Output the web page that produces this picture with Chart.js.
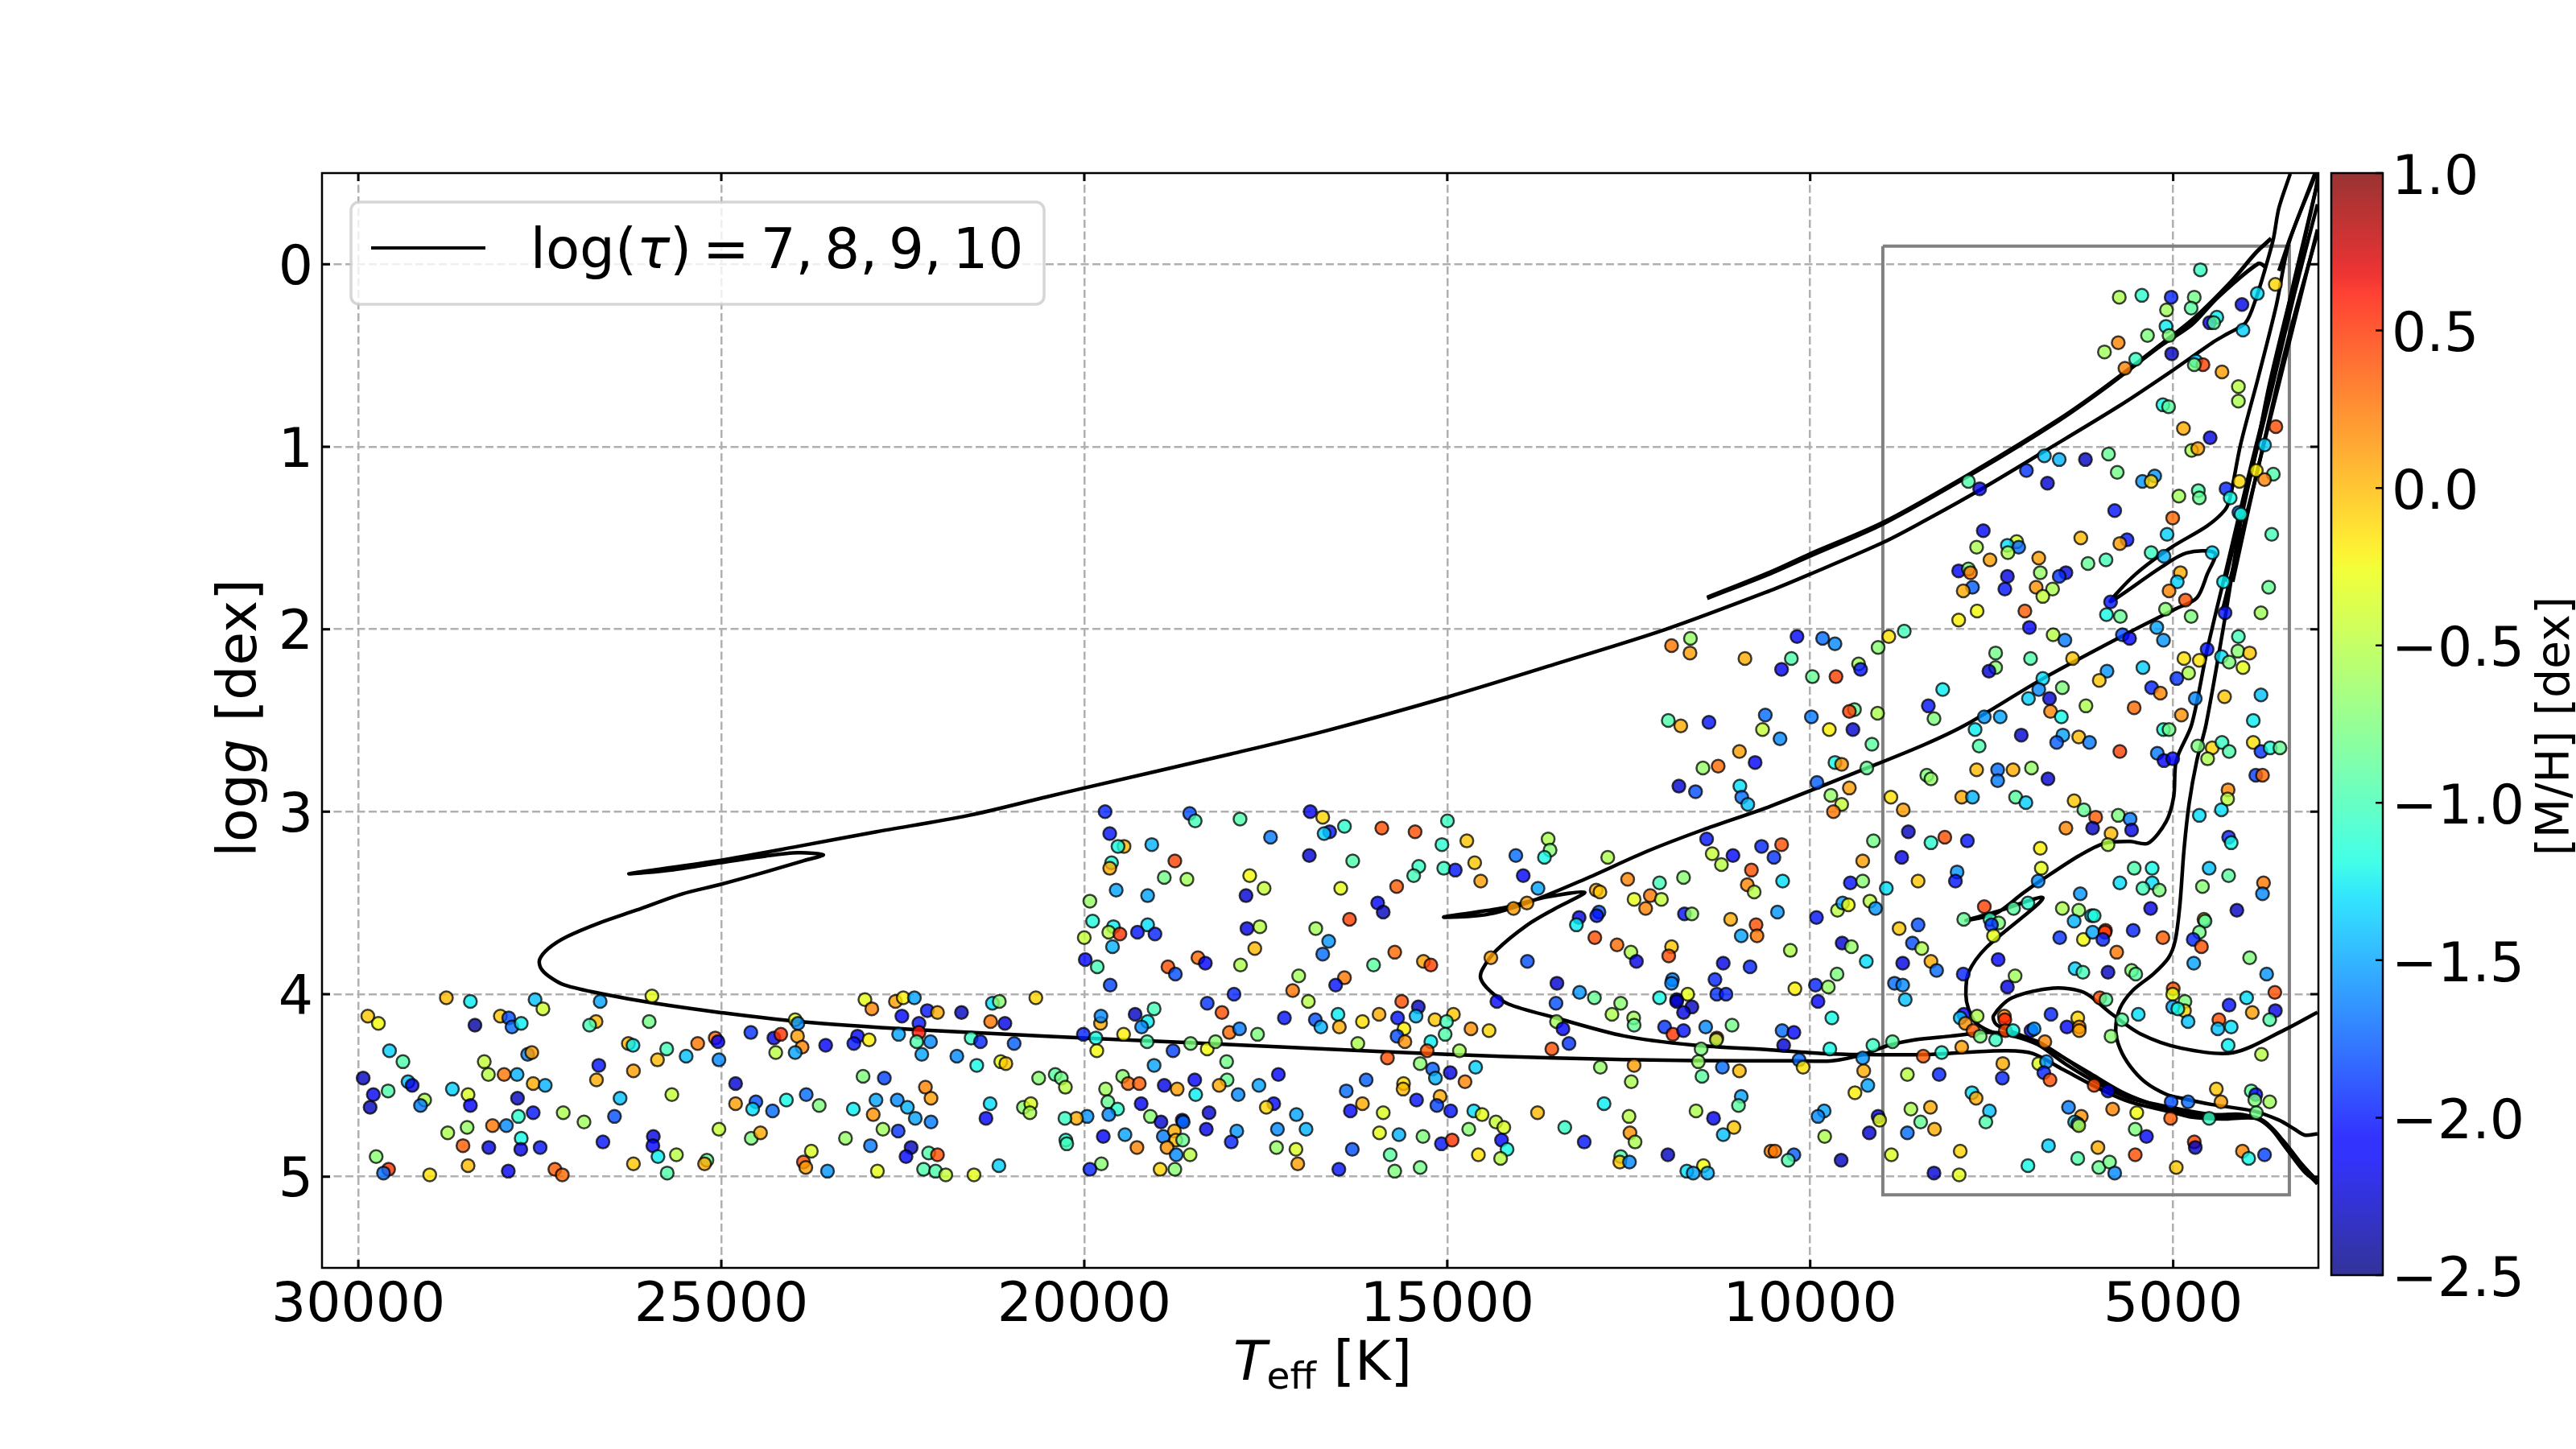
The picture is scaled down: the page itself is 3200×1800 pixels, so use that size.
<!DOCTYPE html>
<html>
<head>
<meta charset="utf-8">
<title>Kiel diagram</title>
<script src="https://cdn.jsdelivr.net/npm/chart.js@4"></script>
<style>
    html, body { margin: 0; padding: 0; background: #fff; }
    canvas { position: absolute; left: 0; top: 0; }
</style>
</head>
<body>
<canvas id="mainChart" width="3200" height="1800"></canvas>
<canvas id="barChart" width="3200" height="1800"></canvas>
<script>
// stars, hot side first
const starTeff = [
    28787,28456,27565,27457,26668,25955,29869,29723,28043,27928,
    27883,27756,28393,26725,26814,25993,23982,23944,23021,22926,
    22601,22493,22340,21265,21170,20667,22162,22022,21691,22512,
    21290,21093,22277,22277,24593,24275,24180,23950,22557,21558,
    21430,22118,22308,20966,23123,23174,22964,23562,23887,24250,
    23982,25083,25045,25325,25752,26280,26216,29570,29385,27667,
    27610,28265,26687,25879,25484,25032,22238,21755,21481,21150,
    21080,29933,29315,29258,29589,29793,29837,29086,29143,28704,
    28488,28456,28208,27992,27813,27591,27425,27807,26719,26210,
    26394,25681,24803,24803,24523,24568,24294,24103,23830,23651,
    23047,22754,22188,22111,22869,22576,22436,23181,22907,22328,
    22111,21354,21297,20838,20736,20749,20628,27794,27591,27177,
    26891,26471,28501,28768,28151,27960,27756,27762,28558,28202,
    27495,26630,25936,25942,25872,25618,25032,24587,24460,23289,
    22773,22563,22945,23760,22385,22455,22143,22022,29754,29583,
    29653,29016,28488,27934,27292,27190,26210,25745,25198,25230,
    23868,23836,23537,22849,22213,22048,21908,21519,21176,
    // middle block
    11650,11910,11656,10899,11955,11783,11395,10619,10657,10975,
    10759,11268,11478,11809,11580,10969,10943,10860,19713,18548,
    18472,17854,16887,16715,16416,16620,16696,15901,15443,14997,
    19649,19452,19535,19070,17434,15073,14730,13610,13584,13661,
    14055,12789,18752,19624,19649,16900,16302,15392,15462,15048,
    14889,14622,14539,13953,13750,11427,11350,11064,11223,10670,
    10810,11745,12076,12515,18898,18586,17721,17523,16467,15697,
    19560,19127,17772,19923,15958,15882,12948,12897,14087,13902,
    12426,12203,12050,12267,10867,10772,19885,19598,19127,19662,
    19509,19267,19026,20000,19611,16346,17759,17581,16811,16633,
    17651,16715,19986,19821,18847,18745,18434,18332,17848,16015,
    15723,15328,15226,13183,13221,12910,12941,12967,12661,12470,
    12394,11910,11949,11732,11631,11096,10746,10950,10733,11198,
    10829,14399,13896,17046,16416,16537,17129,19643,17937,13489,
    11898,11910,11312,14316,13177,12973,12611,13502,12076,11688,
    11840,11840,11630,11745,11287,11160,12731,12432,12426,13495,
    13406,13323,13559,12006,11891,11745,11440,11077,11287,11293,
    11503,11541,12426,12891,12465,11491,11210,10975,10950,10988,
    12840,12496,11573,11332,11051,11198,13381,13756,13113,12483,
    12413,11961,12610,12623,12490,11471,11700,11612,11414,10542,
    19776,19770,19299,19038,19127,19210,20012,19840,19458,19134,
    19827,18777,18535,18306,18192,18103,18306,18001,17861,17613,
    17243,16913,16817,16741,16505,16486,16168,15939,15627,15398,
    15430,15684,15169,14915,15010,15595,15691,15583,15029,15226,
    15277,14673,14424,16232,14832,15824,18039,19038,15373,15201,
    15163,14959,14609,14755,17326,16117,15602,15608,20400,20317,
    20260,19471,19395,19242,19706,18898,18720,18478,18465,18033,
    18141,17594,17880,16391,16168,16334,15099,15423,15143,14953,
    19675,19216,19541,19662,19961,20107,20266,19089,18943,18650,
    18637,18281,17390,17492,17078,16945,17339,17899,18319,15882,
    15933,15665,15334,14634,14520,14329,14221,14704,20254,20241,
    19738,19439,18911,18758,18739,18644,19274,18860,18733,18542,
    17975,17352,17084,17059,16308,15786,15080,14933,14252,14176,
    14571,14265,19764,19923,18955,18752,16493,15723,15373,
    // cool block, upper
    4625,5743,5432,5028,4710,5092,4753,4053,3593,3841,
    4399,4498,4442,5099,4039,5354,5057,5757,5947,5021,
    5516,5665,4689,4590,4710,4328,4102,4102,5142,5064,
    4859,4491,3586,3742,4746,4661,6775,6570,6209,5891,
    7022,5771,7821,7666,6732,5255,5424,5304,3855,3621,
    3742,4088,4272,4654,4640,4922,4215,5806,4095,4067,
    5007,5085,3643,7616,6273,5636,5735,7708,7156,7284,
    7128,7277,7524,6852,5304,5127,4463,5926,6174,7955,
    7821,7793,6831,6478,6570,7284,4901,4944,7765,7892,
    7319,6888,6662,6796,5057,4307,3685,4831,5863,5106,
    5919,5728,4753,3791,4286,7701,7955,7043,6980,8705,
    8917,9065,10182,9829,9659,5226,6654,6492,5700,5601,
    5134,4102,4109,3947,4533,4335,4229,4039,4852,4640,
    10260,9334,9306,10395,9970,9645,7446,6965,6386,7446,
    7538,5912,5417,6018,4788,4951,6796,6852,6527,8175,
    5297,5177,4293,3791,4696,6994,6704,8373,6202,5538,
    9072,9391,9461,9984,8295,7602,7383,6690,6541,4887,
    3897,
    // cool block, lower
    9737,9412,10416,9150,9659,9567,9221,9907,9461,9716,
    9567,9680,8719,8889,7729,7093,7673,6520,6605,6301,
    6153,5735,5134,5057,5219,5127,5007,4661,4463,4328,
    4229,4526,3897,3791,3664,3530,3862,3770,8394,8337,
    7708,7418,7418,7206,6952,6725,7913,7765,7171,7029,
    6365,6230,6068,5757,5594,6478,6110,5573,5856,5898,
    6831,8648,9129,8337,8146,7835,4640,4336,4244,4251,
    4236,4201,10394,10500,9277,8740,7977,8000,8514,10380,
    9447,9277,8952,6817,6860,5537,5290,5290,5735,5417,
    5191,4505,4237,4597,3756,3770,6280,10451,9914,9624,
    9553,9475,9178,9101,5311,4123,7199,7001,7602,7885,
    7524,7404,7503,7475,8775,8514,6527,6301,6124,6089,
    6365,4576,4562,4639,6563,6237,6110,5933,5940,5969,
    5551,5142,4724,4611,5778,10274,9560,9433,9228,8592,
    8464,8337,8259,8726,7411,4717,3947,3713,9631,9928,
    9751,10211,9893,8839,8726,8691,7892,7178,7284,6351,
    6244,5898,5573,5516,5000,5007,6011,5926,4838,4845,
    5007,4936,4795,4230,3989,3911,3600,3593,3671,6683,
    6315,5481,5707,4371,4385,4201,4243,3784,7885,7934,
    7701,7863,7757,7658,7326,7319,7312,7206,7446,6959,
    6916,6768,6464,6294,6294,5856,9702,10387,10225,10366,
    9730,9136,8867,7913,8189,8443,10154,10098,9277,9263,
    9207,9384,7347,7354,6852,6746,6782,6697,8662,8224,
    7772,7715,6089,5898,5028,4795,4406,4342,3925,3862,
    3876,3671,3855,4505,5036,5834,5502,6442,6266,6358,
    6315,6301,5523,5368,7531,7581,8344,8613,8479,8288,
    8662,9065,9044,9808,9893,9801,9186,10486,10225,10303,
    9574,8882,7934,8295,7948,6718,7001,6315,6037,6025,
    5877,5806,5523,4958,4710,4696,4046,3961,3742
];
const starLogg = [
    4.02,4.04,4.03,4.08,4.04,4.01,4.12,4.16,4.12,4.13,
    4.18,4.16,4.17,4.15,4.17,4.15,4.14,4.16,4.03,4.08,
    4.04,4.02,4.02,4.05,4.04,4.02,4.09,4.10,4.10,4.12,
    4.15,4.16,4.16,4.21,4.21,4.24,4.22,4.23,4.22,4.24,
    4.26,4.26,4.26,4.27,4.23,4.27,4.25,4.28,4.29,4.32,
    4.32,4.24,4.26,4.27,4.30,4.27,4.28,4.31,4.37,4.33,
    4.32,4.37,4.39,4.36,4.34,4.36,4.33,4.34,4.39,4.37,
    4.38,4.46,4.48,4.50,4.53,4.55,4.62,4.58,4.61,4.52,
    4.55,4.61,4.44,4.44,4.44,4.49,4.50,4.57,4.47,4.42,
    4.57,4.55,4.49,4.60,4.59,4.63,4.64,4.58,4.55,4.61,
    4.45,4.46,4.51,4.57,4.58,4.58,4.62,4.63,4.66,4.68,
    4.70,4.68,4.60,4.62,4.60,4.65,4.46,4.67,4.65,4.65,
    4.70,4.67,4.73,4.76,4.72,4.72,4.79,4.85,4.83,4.84,
    4.84,4.81,4.78,4.83,4.89,4.88,4.74,4.79,4.76,4.79,
    4.74,4.75,4.83,4.86,4.84,4.89,4.87,4.88,4.89,4.96,
    4.98,4.99,4.94,4.97,4.96,4.99,4.93,4.98,4.91,4.93,
    4.92,4.95,4.97,4.97,4.96,4.97,4.99,4.99,4.94,
    // middle block
    2.05,2.09,2.13,2.16,2.50,2.53,2.51,2.47,2.55,2.67,
    2.73,2.75,2.76,2.86,2.89,2.86,2.92,2.96,3.00,3.01,
    3.05,3.04,3.00,3.03,3.08,3.11,3.12,3.09,3.11,3.05,
    3.12,3.19,3.19,3.18,3.14,3.18,3.16,3.15,3.21,3.25,
    3.24,3.25,3.27,3.28,3.31,3.24,3.27,3.30,3.35,3.31,
    3.32,3.28,3.38,3.35,3.42,3.15,3.23,3.24,3.29,3.19,
    3.32,3.36,3.39,3.37,3.36,3.37,3.35,3.42,3.42,3.41,
    3.43,3.46,3.46,3.49,3.50,3.55,3.43,3.44,3.53,3.50,
    3.48,3.46,3.48,3.53,3.40,3.44,3.60,3.63,3.62,3.66,
    3.67,3.66,3.67,3.69,3.74,3.59,3.64,3.63,3.64,3.71,
    3.75,3.78,3.81,3.85,3.85,3.89,3.80,3.83,3.84,3.84,
    3.77,3.82,3.84,3.58,3.62,3.55,3.57,3.69,3.73,3.77,
    3.82,3.74,3.79,3.56,3.56,3.59,3.62,3.68,3.68,3.83,
    3.85,3.80,3.82,3.90,3.91,3.95,3.98,3.95,4.00,3.94,
    3.92,3.94,3.92,4.04,3.99,4.02,4.05,4.05,4.02,4.00,
    4.03,4.04,4.07,4.10,4.00,4.00,4.11,4.13,4.17,4.15,
    4.19,4.27,4.30,4.18,4.22,4.20,4.18,4.17,4.24,4.25,
    4.30,4.37,4.39,4.40,4.48,4.45,4.40,4.42,4.56,4.61,
    4.60,4.67,4.64,4.68,4.73,4.77,4.73,4.65,4.81,4.76,
    4.81,4.88,4.89,4.92,4.92,4.94,4.97,4.98,4.98,4.86,
    4.16,4.12,4.11,4.08,4.15,4.18,4.22,4.24,4.22,4.26,
    4.31,4.31,4.27,4.30,4.26,4.10,4.05,4.21,4.19,4.22,
    4.13,4.04,4.14,4.18,4.11,4.18,4.15,4.11,4.04,4.07,
    4.12,4.13,4.14,4.11,4.15,4.19,4.23,4.26,4.22,4.26,
    4.31,4.19,4.20,4.27,4.31,4.35,4.37,4.39,4.38,4.41,
    4.46,4.43,4.40,4.48,4.44,4.47,4.49,4.52,4.44,4.46,
    4.51,4.45,4.49,4.49,4.52,4.50,4.52,4.47,4.55,4.47,
    4.50,4.50,4.55,4.53,4.60,4.64,4.56,4.58,4.61,4.64,
    4.59,4.60,4.63,4.66,4.67,4.68,4.68,4.67,4.70,4.69,
    4.70,4.65,4.60,4.62,4.66,4.74,4.74,4.75,4.74,4.65,
    4.76,4.77,4.78,4.64,4.66,4.70,4.73,4.74,4.80,4.82,
    4.78,4.77,4.78,4.75,4.80,4.80,4.84,4.84,4.88,4.88,
    4.81,4.84,4.85,4.93,4.85,4.88,4.82,4.80,4.80,4.85,
    4.88,4.90,4.93,4.96,4.96,4.96,4.96,4.97,4.95,
    // cool block, upper
    0.03,0.18,0.17,0.18,0.18,0.25,0.24,0.22,0.11,0.16,
    0.29,0.32,0.32,0.34,0.36,0.39,0.39,0.43,0.48,0.49,
    0.52,0.57,0.53,0.55,0.55,0.59,0.67,0.75,0.77,0.78,
    0.90,0.95,0.89,0.99,1.02,1.01,1.05,1.07,1.07,1.04,
    1.13,1.14,1.19,1.23,1.20,1.16,1.19,1.19,1.13,1.15,
    1.18,1.19,1.23,1.24,1.28,1.27,1.28,1.35,1.36,1.37,
    1.39,1.48,1.48,1.46,1.50,1.51,1.53,1.55,1.52,1.54,
    1.55,1.58,1.62,1.61,1.58,1.60,1.58,1.62,1.64,1.68,
    1.67,1.69,1.69,1.69,1.71,1.71,1.69,1.74,1.77,1.79,
    1.78,1.77,1.78,1.82,1.79,1.74,1.77,1.84,1.85,1.89,
    1.92,1.93,1.93,1.91,1.91,1.90,1.95,1.90,1.99,2.01,
    2.04,2.10,2.04,2.05,2.08,1.99,2.03,2.06,2.03,2.05,
    2.06,2.04,2.12,2.13,2.11,2.15,2.18,2.21,2.16,2.17,
    2.16,2.19,2.22,2.22,2.26,2.26,2.13,2.16,2.16,2.21,
    2.23,2.23,2.21,2.28,2.24,2.27,2.27,2.33,2.32,2.33,
    2.32,2.35,2.37,2.36,2.38,2.38,2.38,2.42,2.42,2.43,
    2.46,2.44,2.45,2.48,2.49,2.48,2.48,2.45,2.48,2.47,
    2.50,
    // cool block, lower
    2.55,2.55,2.60,2.63,2.73,2.74,2.76,2.84,2.87,2.91,
    2.96,3.00,2.99,2.92,2.55,2.58,2.64,2.58,2.62,2.59,
    2.62,2.67,2.55,2.55,2.68,2.72,2.71,2.64,2.65,2.62,
    2.67,2.71,2.62,2.67,2.65,2.65,2.80,2.80,2.80,2.82,
    2.77,2.77,2.83,2.77,2.76,2.82,2.92,2.92,2.92,2.95,
    2.94,2.99,3.03,3.02,3.04,3.09,3.09,3.10,3.12,3.18,
    3.20,3.11,3.16,3.17,3.14,3.16,3.02,2.99,2.88,2.93,
    3.14,3.17,3.18,3.25,3.27,3.25,3.33,3.38,3.38,3.38,
    3.39,3.38,3.42,3.31,3.38,3.31,3.31,3.39,3.39,3.42,
    3.43,3.31,3.35,3.41,3.39,3.45,3.45,3.55,3.58,3.54,
    3.50,3.51,3.49,3.53,3.53,3.54,3.53,3.50,3.52,3.59,
    3.59,3.61,3.62,3.68,3.64,3.62,3.53,3.54,3.57,3.57,
    3.60,3.59,3.60,3.66,3.69,3.70,3.66,3.65,3.66,3.70,
    3.65,3.69,3.70,3.74,3.77,3.76,3.72,3.74,3.82,3.72,
    3.75,3.82,3.87,3.83,3.81,3.83,3.80,3.89,3.89,3.95,
    3.96,3.97,4.04,3.94,3.95,4.03,3.89,3.90,3.96,3.86,
    3.88,3.88,3.87,3.89,3.97,4.00,4.02,4.03,4.04,4.09,
    4.07,4.08,4.15,4.06,4.02,4.10,3.99,4.09,4.14,4.11,
    4.13,4.11,4.14,4.14,4.19,4.18,4.28,4.33,4.11,4.13,
    4.12,4.16,4.20,4.23,4.12,4.14,4.20,4.20,4.25,4.20,
    4.19,4.26,4.18,4.18,4.20,4.23,4.13,4.20,4.21,4.28,
    4.30,4.28,4.26,4.29,4.32,4.34,4.36,4.40,4.35,4.42,
    4.50,4.54,4.38,4.46,4.38,4.37,4.43,4.47,4.44,4.44,
    4.54,4.57,4.50,4.53,4.59,4.59,4.52,4.59,4.53,4.55,
    4.58,4.59,4.65,4.68,4.68,4.63,4.65,4.62,4.67,4.70,
    4.71,4.72,4.74,4.78,4.64,4.70,4.62,4.63,4.70,4.74,
    4.76,4.67,4.69,4.64,4.67,4.78,4.76,4.86,4.88,4.91,
    4.91,4.88,4.86,4.98,4.99,4.83,4.94,4.90,4.84,4.95,
    4.92,4.98,4.88,4.95,4.81,4.84,4.86,4.90,4.88
];
const starMH = [
    0,-1.25,-1.4,-.4,-1.5,-.3,-.05,-.25,-.05,-1.8,
    -1.7,-1.25,-2.4,0,-1,-.8,-.3,-1.6,-.3,.2,
    .1,-.2,-1.5,-1.3,-.7,-.1,-2,.05,-2.3,-2.1,
    .25,-2.2,-2,.6,-1.9,-2.2,.5,.1,-1.5,-1.05,
    -1.95,-1.6,-.95,-1.75,-2.1,-2,-.2,-2.1,.2,-.5,
    -1.5,.3,-2.1,.25,-1,0,-1.25,-1.35,-.95,-1.6,
    .1,-.45,-2,0,-1.4,-1.6,-1.5,-1.6,-1.2,-.3,
    -.05,-2.3,-1.4,-2.2,-.95,-2.15,-2.3,-.55,-1.65,-1.35,
    -.35,-2.1,-.5,.25,-1.45,.05,-1.45,-2.3,.05,.1,
    -1.4,-.45,-2.25,.1,-1.8,-1.3,-1.7,-1.2,-1.7,-.75,
    -.75,-1.85,.2,.1,-1.5,-1.6,-1.45,-1.25,.15,-1.5,
    -1.65,-2.1,-1.3,-.7,-.35,-.55,-.7,-1.1,-2,-.55,
    -.6,-1.8,-.65,-.55,.25,-1.6,-1.2,-2.2,.35,-2.2,
    -2,-2,-2.2,-2.1,-1.25,-.5,-.45,-.75,.05,-.65,
    -.6,-1.9,-1.65,-.35,-2.3,-2.05,-.95,.4,-.7,.5,
    -1.7,-.15,0,-2.15,.35,.3,-.05,-.95,-.85,.05,
    .4,.1,-1.55,-.3,-.95,-.95,-.45,-.3,-1.35,
    // middle block
    -.65,.25,.1,.05,-.95,.05,-2,-1.7,-.45,.1,
    -2.1,.3,-.65,-2.25,-1.8,-1.3,-1.7,-1.4,-1.95,-1.8,
    -1,-.95,-2.15,-.1,-1.1,-2,-1.35,.4,.4,-1.05,
    -2,0,-1.2,-1.45,-1.65,-1.1,-.05,-.55,-.7,-1.2,
    -1.7,-.55,.45,-1.15,.05,-2.25,-.95,-1.05,-1,-1.05,
    -2,-.05,.1,-2.1,-1.5,-2,-.45,-2.05,-.5,-1.95,
    .4,-.7,-1,.2,-.8,-.6,-.25,-.45,-.3,.35,
    -1.5,-1.5,-2.25,-.65,-2.1,-2.3,.05,-.05,.1,.1,
    -.3,.25,-.45,.2,.2,-.5,-1.15,-1.25,-1.3,-.5,
    .5,-2,-1.95,-.45,-1.45,.45,-2.2,-.5,-.6,-1.55,
    0,-1.7,-2.05,-1,.4,-1.8,.3,-2.1,-.55,-.9,
    .3,.1,.45,-2.2,-1.25,-1.75,-2,.4,.3,-.55,
    -2.2,-.05,.4,-2,-.65,.05,.4,-1.5,.25,-2.2,
    -1.95,.1,-1.8,-.6,.25,-2,.25,-1.85,-1.95,-2.25,
    -1.65,-1.6,-1.95,-2.05,-1.55,-.85,-.7,-1.8,-1.2,-.3,
    -2.2,-2.3,-2.3,-2.2,-1.9,-1.95,-.55,-.6,-.85,-.6,
    -2.1,-1.9,.4,-1.9,.5,-2,-1.6,-.8,.6,-.5,
    -.75,-.65,.1,-.65,-.55,-.9,-1.7,0,-1.5,-.9,
    -1.25,-.5,-.55,-2.15,-.05,-1.4,-1.05,0,-2,.15,
    -.55,-2.3,-.95,-.05,-1.6,-.25,-1.3,-1.5,-1.45,.2,
    .05,-1.6,-2.3,-1,-1.25,-1.6,-1.95,-1.2,-.2,-.95,
    -.25,-1.85,-.75,-.25,-.7,.4,-1.9,.3,-1.65,-.75,
    -2,-.5,-1.8,-1.45,-1.25,.05,-.15,.05,.4,-2.3,
    -1.4,-2,-.05,-.05,-1,-.2,-1.8,.15,-.95,-1.25,
    .35,.15,-.1,-.55,-.6,.4,-.8,-1.5,-.7,-1.75,
    -1.45,-2.2,-1.35,.2,-2.05,-1.75,-.15,0,-.9,-.8,
    -.5,-.7,.3,.35,-.6,-2.2,.1,-2.1,-1.25,-.85,
    .05,-1.5,-1.6,-1.7,.05,-2.05,.05,-2,-1.85,-2,
    -.85,-2.15,-1.1,-1.6,-1.55,.05,-1.05,-.7,-2.25,-2.3,
    -1.7,-2.25,-2.05,-.1,-1.5,-1.45,-1.6,-1.55,-2.2,-.35,
    -.3,-1.45,-.75,-1.3,-.3,-.45,-.35,-.7,-1.15,-1,
    -2.1,-1.5,-1.65,.05,0,-.85,.2,.15,-1.6,-.5,
    -1.95,-.65,-.35,.1,-1.8,-.9,-2,.5,-2.1,-1.2,
    -.15,-.5,-.7,-1.95,-.1,-.7,-2,-.75,-.8,
    // cool block, upper
    -1.05,-.55,-1.1,-1.95,-.8,-.6,-.9,-2.2,-.1,-1.3,
    -1.25,-2.1,-.9,-1.25,-1.35,-.75,-.75,.2,-.6,-2.3,
    -1.05,.2,-1.4,.45,-.8,.1,-.5,-.55,-1.2,-.9,
    .05,-2.2,.4,-1.35,-.55,.1,-1.4,-1.45,-2.3,-.85,
    -1.9,-.8,-.95,-2.2,-2.25,-1.55,-1.55,-.1,-.2,-.95,
    .2,-.1,-1.95,-.95,-.85,-.6,-1.2,-2,-1.7,-1.15,
    .3,-1.35,-1,-2.05,0,-2,.1,-.55,-.4,-1.3,
    -1.7,-.55,.1,.1,-1.05,-1.45,-1.3,-1,-.85,-2.1,
    -.75,.25,-.65,-2.2,-1.9,-2.2,.05,-1.35,-1.75,.05,
    -2,.15,-.55,-.45,.2,-1.25,-.85,.4,-2,-.7,
    -1.2,-.85,-.75,-.6,-2,-.25,-.2,.35,-2.1,-1,
    -.15,-.7,-2.05,-1.7,-1.6,-1.5,-.5,-1.65,-1.8,-2.1,
    -1.55,-1,-.7,-.05,-2,-1.3,-.75,-.3,-.15,-.15,
    -.95,-.6,-2,-2.15,-.85,.45,-.8,-.95,-.05,-.7,
    -2.25,-1.55,-1.35,-.05,-.55,-1.9,-1.3,-1.6,-.75,-1.25,
    -1.95,.2,-.05,-1.4,-1.6,-1.35,-2.25,-2,-.55,.3,
    -.55,-.85,.45,-1.65,-.75,-1.55,-1.5,.2,-1.2,.15,
    -1.25,
    // cool block, lower
    -.2,-2.25,-1.6,-.9,-1.2,.15,-.85,-1.75,.1,-.65,
    -.45,.25,.1,-.15,-1.25,-2.25,-.95,-1.5,-1.75,0,
    -1.65,.45,-1.15,-.8,-1.65,-2.1,-2.05,-.75,-.1,-1.05,
    -.95,-.55,-.15,-1.9,-1.15,-.85,-1.85,.3,-.75,-.65,
    0,-1.7,-1.65,.05,-.65,-2.25,.05,-1.45,-.9,-1.35,
    -.05,-.85,.35,-.75,-1.65,.2,-2.3,-2.2,0,-.5,
    -.2,-2.3,-.8,-1.1,.4,-2,-1.3,-1.3,.2,-.5,
    -1.95,-1.2,.4,-1.9,.1,-2.2,-1.55,-2,-.05,-1.3,
    -2,-.7,-1.3,-.3,-1.6,-.95,-1.2,-1.3,-1.3,-1,
    -.75,-1.4,-.9,-.7,.25,-1.6,-1.55,-1.55,-2,-.5,
    -1.5,-.25,-.5,-1.55,-2.2,-2.3,-.9,-1.1,.45,-.85,
    -1.05,-.75,-1.9,-.3,-.05,-1.8,-.55,-.65,-1.3,-1.15,
    -1.45,-.1,-.95,-.8,-1.9,-.25,-1.5,.3,.5,-1.95,
    -1.95,.35,-1.95,.4,.25,-.55,-2.25,-.65,-1.3,-1.8,
    -.55,.05,-1.7,-2.2,-2.1,-1.5,-.75,-1.55,-.75,-1.95,
    -.65,-.2,-2.1,-1.7,-1.6,-1.4,-1.95,-.6,-2.2,-1.35,
    -1,-2.3,-.7,-.9,.4,-.3,.4,-.9,-.75,-.1,
    -1.5,-1.2,-1.4,-2,-1.3,.1,.4,-2.2,-.95,-1.95,
    -.1,-1.3,-.9,.4,-1.4,-1.3,-1.25,-.5,-2.05,-1.4,
    -.55,.15,.35,-.75,.2,.55,.4,-1.2,-1.05,-2,
    -1.55,.2,-2.05,.15,.1,-.7,-1.2,-1.7,-2.05,-2.25,
    -1.2,-1.05,-.9,.1,-1.15,.35,-1.7,-.15,-1.55,.05,
    -1.5,-.2,.05,-1.95,-.35,-1.55,-1.95,.4,-.5,-1.95,
    -1.3,.05,.4,-2.2,-1.8,-1.7,-.05,.1,-.9,-2.05,
    -.75,-.6,-.8,-1.05,.35,.2,-.25,-1.65,.15,-1.35,
    -1.6,-.5,-.75,-2.05,-1.4,-.95,.05,-.55,-.85,.05,
    -1.7,-2.1,-.3,-1.5,-1.6,-.55,-2.25,.25,-1.75,-.95,
    -2.3,-.35,-.1,-2.25,-.3,-1.35,-1.2,-.95,.05,-.85,
    -.8,-1.6,.4,-.05,.45,-2.3,.2,-1.2,-1.85
];

// isochrones, each drawn from the cool dwarf end
const curveATeff = [3013,3190,3402,3614,3827,4180,4463,4887,5382,5735,6160,6584,6867,7220,7574,8068,8563,8917,9270,9695,10190,11611,13520,15000,16703,18612,20521,22289,23944,25026,25917,26617,27158,27381,27489,27502,27381,27126,26681,26172,25535,25026,24390,23880,23594,23944,24390,25026,25662,26267,25026,23944,22862,21590,20521,20000,17975,16703,15000,13520,11993,10542,10013,8988,8422,7666,6796,5735,5028,4463,4251,4003,3862,3720,3620,3544,3388];
const curveALogg = [5.03,4.975,4.867,4.749,4.68,4.66,4.67,4.65,4.59,4.53,4.43,4.33,4.26,4.22,4.21,4.23,4.25,4.28,4.33,4.365,4.365,4.364,4.35,4.33,4.30,4.265,4.23,4.195,4.15,4.10,4.05,4.00,3.95,3.90,3.855,3.81,3.75,3.685,3.61,3.54,3.45,3.40,3.33,3.27,3.236,3.225,3.243,3.28,3.318,3.34,3.267,3.19,3.11,3.02,2.919,2.87,2.683,2.56,2.372,2.192,2.001,1.787,1.70,1.523,1.405,1.237,1.03,0.774,0.587,0.43,0.38,0.32,0.19,0.007,-0.14,-0.309,-0.496];
const curveBTeff = [3013,3225,3438,3650,3862,4321,4746,5028,5594,5947,6513,6937,7291,7856,8422,9270,9836,10543,11611,12566,13520,14157,14412,14539,14507,14316,13902,13520,13107,13648,14221,15048,14475,13902,13107,12248,11484,10542,9221,8422,7856,6796,5594,4958,4675,4533,4427,4816,5170,5863,5523,5028,4533,4286,4215,4074,3827,3579,3402,3035];
const curveBLogg = [5.024,4.936,4.847,4.739,4.68,4.684,4.674,4.646,4.591,4.532,4.414,4.325,4.31,4.319,4.331,4.331,4.325,4.305,4.279,4.229,4.128,4.054,3.982,3.914,3.858,3.757,3.622,3.532,3.442,3.469,3.527,3.577,3.565,3.50,3.37,3.217,3.10,2.969,2.761,2.631,2.523,2.271,2.015,1.887,1.828,1.70,1.582,1.582,1.661,1.848,1.70,1.552,1.434,1.346,1.277,0.991,0.617,0.223,-0.122,-0.496];
const curveCTeff = [3013,3261,3473,3720,4038,4463,5028,5594,6018,6478,6867,7220,7432,7715,7821,7856,7821,7574,6796,7432,7856,7432,7079,6796,6301,5947,5594,5347,5099,4993,4958,4746,4533,4286,3968,3650,3332,3049,3000];
const curveCLogg = [5.03,4.916,4.808,4.71,4.66,4.66,4.62,4.571,4.493,4.384,4.276,4.227,4.217,4.158,4.079,4.0,3.882,3.744,3.474,3.547,3.596,3.555,3.449,3.37,3.242,3.173,3.163,3.173,3.055,2.917,2.72,2.523,2.114,1.70,1.168,0.656,0.085,-0.388,-0.496];
const curveDTeff = [3013,3190,3332,3544,3897,4463,4887,5099,5382,5594,5735,5792,5735,5559,5276,5064,4972,4908,4852,4781,4675,4548,4286,4067,3862,3685,3473,3261,3013];
const curveDLogg = [4.765,4.772,4.739,4.69,4.64,4.605,4.57,4.548,4.483,4.394,4.296,4.197,4.079,3.98,3.89,3.80,3.705,3.51,3.212,2.956,2.72,2.523,1.937,1.405,1.03,0.676,0.321,-0.013,-0.447];
const curveETeff = [3013,3190,3402,3579,3791,4180,4604,5028,5523,5947,6372,6796,7149,7432,7475,7220,6654,6230,5877,5453,4887,4180,3473,3013];
const curveELogg = [5.04,4.965,4.857,4.759,4.686,4.67,4.66,4.634,4.571,4.493,4.384,4.276,4.217,4.168,4.118,4.02,3.967,3.99,4.099,4.217,4.296,4.321,4.197,4.099];
// heavy upper branches and the right hand giant branch
const curveFTeff = [11420,10542,10013,8988,7715,6584,5947,5170,4675,4180,3862,3650];
const curveFLogg = [1.826,1.686,1.59,1.414,1.129,0.853,0.676,0.44,0.282,0.085,-0.063,-0.142];
const curveGTeff = [11420,10542,10013,8988,7715,6584,5947,5170,4746,4392,3827,3720];
const curveGLogg = [1.83,1.693,1.6,1.42,1.135,0.858,0.68,0.445,0.331,0.183,-0.004,0.016];
const curveHTeff = [3544,3402,3049];
const curveHLogg = [0.036,-0.132,-0.496];
const curveITeff = [4322,4074,3827,3544,3332,3013];
const curveILogg = [1.897,1.503,1.109,0.617,0.282,-0.171];
const curveJTeff = [4286,3968,3650,3332,3013];
const curveJLogg = [1.74,1.208,0.696,0.164,-0.329];
const curveKTeff = [4180,3862,3544,3261,3013];
const curveKLogg = [1.74,1.168,0.656,0.203,-0.191];

// selection box
const boxTeff = [9000,3400,3400,9000,9000];
const boxLogg = [-0.1,-0.1,5.1,5.1,-0.1];

const xTicks = [30000,25000,20000,15000,10000,5000];
const yTicks = [0,1,2,3,4,5];
const barTicks = [-2.5,-2,-1.5,-1,-0.5,0,0.5,1];

const FONT = '"DejaVu Sans"';
const TICK_SIZE = 68;

function ramp(t, stops) {
    for (let i = 1; i < stops.length; i++) {
        if (t <= stops[i][0]) {
            const a = stops[i - 1], b = stops[i];
            return a[1] + (b[1] - a[1]) * (t - a[0]) / (b[0] - a[0]);
        }
    }
    return stops[stops.length - 1][1];
}

// matplotlib jet at alpha 0.8
function jet(v) {
    const t = Math.min(1, Math.max(0, (v + 2.5) / 3.5));
    const r = ramp(t, [[0,0],[0.35,0],[0.66,1],[0.89,1],[1,0.5]]);
    const g = ramp(t, [[0,0],[0.125,0],[0.375,1],[0.64,1],[0.91,0],[1,0]]);
    const b = ramp(t, [[0,0.5],[0.11,1],[0.34,1],[0.65,0],[1,0]]);
    return `rgba(${Math.round(r * 255)},${Math.round(g * 255)},${Math.round(b * 255)},0.8)`;
}

function toXY(xs, ys) {
    return xs.map((x, i) => ({ x: x, y: ys[i] }));
}

function lineSet(xs, ys, color, width, tension) {
    return {
        data: toXY(xs, ys),
        showLine: true,
        borderColor: color,
        borderWidth: width,
        pointRadius: 0,
        tension: tension,
        fill: false
    };
}

// text in mixed styles along one baseline, centred on x
function drawRuns(c, runs, x, y) {
    let total = 0;
    runs.forEach(r => { c.font = r.font; total += c.measureText(r.text).width; });
    let pos = x - total / 2;
    c.textAlign = 'left';
    c.textBaseline = 'alphabetic';
    runs.forEach(r => {
        c.font = r.font;
        c.fillText(r.text, pos, y + (r.dy || 0));
        pos += c.measureText(r.text).width;
    });
}

const framePlugin = {
    id: 'frame',
    afterDraw(chart) {
        const c = chart.ctx, a = chart.chartArea;
        const sx = chart.scales.x, sy = chart.scales.y;
        c.save();
        c.fillStyle = 'rgba(255,255,255,0.8)';
        c.strokeStyle = 'rgba(204,204,204,0.8)';
        c.lineWidth = 3.5;
        c.beginPath();
        c.roundRect(a.left + 36, a.top + 36, 861, 127, 10);
        c.fill();
        c.stroke();
        c.strokeStyle = '#000';
        c.lineWidth = 4;
        c.beginPath();
        c.moveTo(a.left + 61, a.top + 93);
        c.lineTo(a.left + 203, a.top + 93);
        c.stroke();
        c.fillStyle = '#000';
        drawRuns(c, [
            { text: 'log(', font: `69px ${FONT}` },
            { text: 'τ', font: `italic 69px ${FONT}` },
            { text: ')\u2009=\u20097,\u20098,\u20099,\u200910', font: `69px ${FONT}` }
        ], a.left + 565, a.top + 118);

        // ticks point inwards on all four sides
        c.strokeStyle = '#000';
        c.lineWidth = 3;
        c.beginPath();
        xTicks.forEach(v => {
            const px = sx.getPixelForValue(v);
            c.moveTo(px, a.top); c.lineTo(px, a.top + 10);
            c.moveTo(px, a.bottom); c.lineTo(px, a.bottom - 10);
        });
        yTicks.forEach(v => {
            const py = sy.getPixelForValue(v);
            c.moveTo(a.left, py); c.lineTo(a.left + 10, py);
            c.moveTo(a.right, py); c.lineTo(a.right - 10, py);
        });
        c.stroke();
        c.lineWidth = 2.5;
        c.strokeRect(a.left, a.top, a.right - a.left, a.bottom - a.top);

        drawRuns(c, [
            { text: 'T', font: `italic ${TICK_SIZE}px ${FONT}` },
            { text: 'eff', font: `47px ${FONT}`, dy: 11 },
            { text: ' [K]', font: `${TICK_SIZE}px ${FONT}` }
        ], 1643, 1714);
        c.translate(318, 892);
        c.rotate(-Math.PI / 2);
        drawRuns(c, [
            { text: 'log', font: `${TICK_SIZE}px ${FONT}` },
            { text: 'g', font: `italic ${TICK_SIZE}px ${FONT}` },
            { text: ' [dex]', font: `${TICK_SIZE}px ${FONT}` }
        ], 0, 0);
        c.restore();
    }
};

document.addEventListener('DOMContentLoaded', function() {
    new Chart(document.getElementById('mainChart').getContext('2d'), {
        type: 'scatter',
        data: {
            datasets: [
                {
                    data: toXY(starTeff, starLogg),
                    pointRadius: 8,
                    pointBorderWidth: 2.5,
                    pointBackgroundColor: ctx => jet(starMH[ctx.dataIndex]),
                    pointBorderColor: 'rgba(0,0,0,0.75)'
                },
                lineSet(curveATeff, curveALogg, '#000', 4.5, 0.3),
                lineSet(curveBTeff, curveBLogg, '#000', 4.5, 0.3),
                lineSet(curveCTeff, curveCLogg, '#000', 4.5, 0.3),
                lineSet(curveDTeff, curveDLogg, '#000', 4.5, 0.3),
                lineSet(curveETeff, curveELogg, '#000', 4.5, 0.3),
                lineSet(curveFTeff, curveFLogg, '#000', 5, 0.3),
                lineSet(curveGTeff, curveGLogg, '#000', 5, 0.3),
                lineSet(curveHTeff, curveHLogg, '#000', 4.5, 0),
                lineSet(curveITeff, curveILogg, '#000', 4.5, 0.3),
                lineSet(curveJTeff, curveJLogg, '#000', 4.5, 0.3),
                lineSet(curveKTeff, curveKLogg, '#000', 4.5, 0.3),
                lineSet(boxTeff, boxLogg, '#808080', 4, 0)
            ]
        },
        options: {
            responsive: false,
            animation: false,
            devicePixelRatio: 1,
            layout: { padding: { top: 215, right: 320, left: 0, bottom: 0 } },
            plugins: { legend: { display: false }, tooltip: { enabled: false } },
            scales: {
                x: {
                    type: 'linear',
                    reverse: true,
                    min: 3000,
                    max: 30500,
                    afterBuildTicks: s => { s.ticks = xTicks.map(v => ({ value: v })); },
                    afterFit: s => { s.height = 225; },
                    grid: { color: '#b0b0b0', lineWidth: 2.5, drawTicks: false },
                    border: { display: false, dash: [10, 4.5] },
                    ticks: {
                        color: '#000',
                        font: { family: 'DejaVu Sans', size: TICK_SIZE },
                        padding: 8,
                        maxRotation: 0,
                        autoSkip: false,
                        callback: v => String(v)
                    }
                },
                y: {
                    type: 'linear',
                    reverse: true,
                    min: -0.5,
                    max: 5.5,
                    afterBuildTicks: s => { s.ticks = yTicks.map(v => ({ value: v })); },
                    afterFit: s => { s.width = 400; },
                    grid: { color: '#b0b0b0', lineWidth: 2.5, drawTicks: false },
                    border: { display: false, dash: [10, 4.5] },
                    ticks: {
                        color: '#000',
                        font: { family: 'DejaVu Sans', size: TICK_SIZE },
                        padding: 11,
                        labelOffset: 7,
                        autoSkip: false,
                        callback: v => String(v)
                    }
                }
            }
        },
        plugins: [framePlugin]
    });

    // colour bar, one floating bar filled with the jet ramp
    new Chart(document.getElementById('barChart').getContext('2d'), {
        type: 'bar',
        data: {
            labels: ['[M/H]'],
            datasets: [{
                data: [[barTicks[0], barTicks[barTicks.length - 1]]],
                barPercentage: 1,
                categoryPercentage: 1,
                backgroundColor: ctx => {
                    const a = ctx.chart.chartArea;
                    if (!a) return 'transparent';
                    const sy = ctx.chart.scales.y;
                    const gradient = ctx.chart.ctx.createLinearGradient(0, a.bottom, 0, a.top);
                    for (let i = 0; i <= 64; i++) {
                        gradient.addColorStop(i / 64, jet(sy.getValueForPixel(a.bottom - (a.bottom - a.top) * i / 64)));
                    }
                    return gradient;
                }
            }]
        },
        options: {
            responsive: false,
            animation: false,
            devicePixelRatio: 1,
            layout: { padding: { top: 215, bottom: 216, left: 2896, right: 0 } },
            plugins: { legend: { display: false }, tooltip: { enabled: false } },
            scales: {
                x: { display: false },
                y: {
                    position: 'right',
                    min: barTicks[0],
                    max: barTicks[barTicks.length - 1],
                    afterBuildTicks: s => { s.ticks = barTicks.map(v => ({ value: v })); },
                    afterFit: s => { s.width = 240; },
                    grid: { display: false, drawTicks: false },
                    border: { display: false },
                    ticks: {
                        color: '#000',
                        font: { family: 'DejaVu Sans', size: TICK_SIZE },
                        padding: 11,
                        labelOffset: 8,
                        autoSkip: false,
                        callback: v => v.toFixed(1).replace('-', '\u2212')
                    }
                }
            }
        },
        plugins: [{
            id: 'barFrame',
            afterDraw(chart) {
                const c = chart.ctx, a = chart.chartArea, sy = chart.scales.y;
                c.save();
                c.strokeStyle = '#000';
                c.lineWidth = 2.5;
                c.strokeRect(a.left, a.top, a.right - a.left, a.bottom - a.top);
                c.beginPath();
                barTicks.forEach(v => {
                    const py = sy.getPixelForValue(v);
                    c.moveTo(a.right, py);
                    c.lineTo(a.right - 9, py);
                });
                c.stroke();
                c.translate(3191, 902);
                c.rotate(-Math.PI / 2);
                c.fillStyle = '#000';
                drawRuns(c, [{ text: '[M/H] [dex]', font: `57px ${FONT}` }], 0, 0);
                c.restore();
            }
        }]
    });
});
</script>
</body>
</html>
